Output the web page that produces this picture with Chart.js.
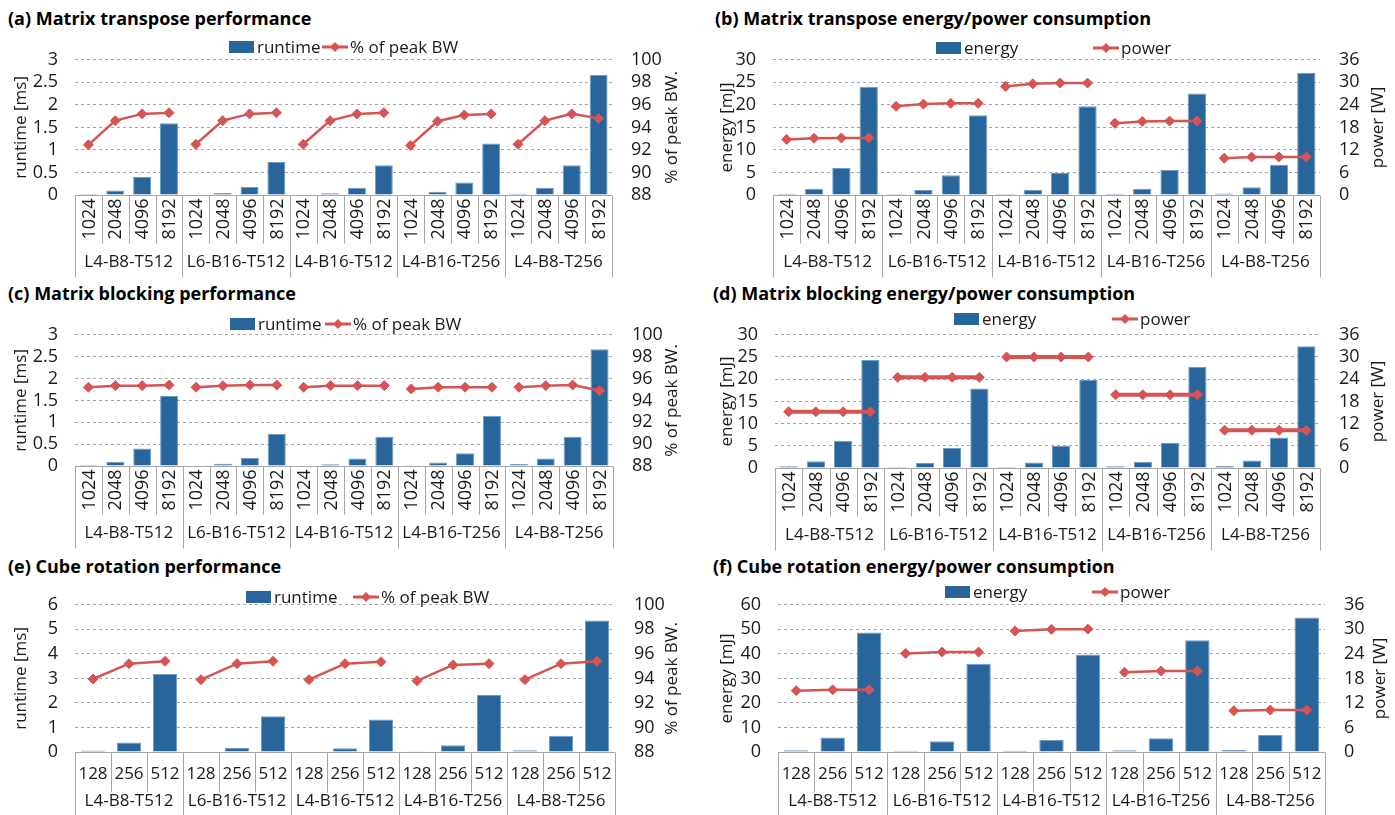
<!DOCTYPE html>
<html>
<head>
<meta charset="utf-8">
<script src="https://cdn.jsdelivr.net/npm/chart.js@4.4.1/dist/chart.umd.min.js"></script>
<style>
  body { margin: 0; background: #fff; width: 1395px; height: 815px; position: relative; overflow: hidden; font-family: 'Open Sans', sans-serif; }
  canvas { position: absolute; }
  .title { position: absolute; font-weight: bold; font-size: 18px; line-height: 20px; white-space: nowrap; color: #000; }
</style>
</head>
<body>
<div class="title" style="left:8px;top:8px">(a) Matrix transpose performance</div>
<div class="title" style="left:715px;top:8px">(b) Matrix transpose energy/power consumption</div>
<div class="title" style="left:8px;top:283px">(c) Matrix blocking performance</div>
<div class="title" style="left:713px;top:283px">(d) Matrix blocking energy/power consumption</div>
<div class="title" style="left:8px;top:556px">(e) Cube rotation performance</div>
<div class="title" style="left:713px;top:556px">(f) Cube rotation energy/power consumption</div>

<canvas id="chartA" width="690" height="252" style="left:0;top:30px"></canvas>
<canvas id="chartB" width="705" height="252" style="left:690px;top:30px"></canvas>
<canvas id="chartC" width="690" height="252" style="left:0;top:305px"></canvas>
<canvas id="chartD" width="705" height="252" style="left:690px;top:305px"></canvas>
<canvas id="chartE" width="690" height="240" style="left:0;top:575px"></canvas>
<canvas id="chartF" width="705" height="240" style="left:690px;top:575px"></canvas>

<script>
// --- dados ---
const groups = ['L4-B8-T512', 'L6-B16-T512', 'L4-B16-T512', 'L4-B16-T256', 'L4-B8-T256'];
const matSizes = ['1024', '2048', '4096', '8192'];
const cubeSizes = ['128', '256', '512'];

// (a) matrix transpose
const transposeRuntime = [0.02, 0.1, 0.4, 1.59, 0.01, 0.045, 0.18, 0.73, 0.01, 0.04, 0.16, 0.66, 0.015, 0.07, 0.28, 1.14, 0.03, 0.16, 0.66, 2.66];
const transposeBW = [92.45, 94.6, 95.2, 95.3, 92.5, 94.6, 95.2, 95.3, 92.5, 94.6, 95.2, 95.3, 92.4, 94.55, 95.1, 95.2, 92.5, 94.6, 95.2, 94.8];
// (b)
const transposeEnergy = [0.3, 1.4, 6.0, 24.0, 0.2, 1.1, 4.4, 17.7, 0.2, 1.15, 4.9, 19.7, 0.3, 1.4, 5.6, 22.5, 0.35, 1.7, 6.7, 27.1];
const transposePower = [14.8, 15.1, 15.2, 15.2, 23.6, 24.2, 24.4, 24.4, 28.9, 29.6, 29.8, 29.8, 19.1, 19.6, 19.7, 19.7, 9.8, 10.1, 10.15, 10.15];
// (c) matrix blocking
const blockingRuntime = [0.03, 0.1, 0.4, 1.6, 0.01, 0.05, 0.19, 0.74, 0.01, 0.04, 0.17, 0.67, 0.02, 0.08, 0.29, 1.15, 0.045, 0.17, 0.67, 2.67];
const blockingBW = [95.2, 95.35, 95.35, 95.4, 95.2, 95.35, 95.4, 95.4, 95.2, 95.35, 95.35, 95.35, 95.05, 95.2, 95.2, 95.2, 95.2, 95.35, 95.4, 94.9];
// (d)
const blockingEnergy = [0.4, 1.5, 6.1, 24.3, 0.25, 1.15, 4.5, 17.9, 0.25, 1.25, 5.0, 19.8, 0.4, 1.4, 5.7, 22.8, 0.45, 1.7, 6.85, 27.4];
const blockingPower = [15.2, 15.2, 15.2, 15.2, 24.5, 24.5, 24.5, 24.5, 30, 30, 30, 30, 19.8, 19.8, 19.8, 19.8, 10.2, 10.2, 10.2, 10.2];
// (e) cube rotation
const cubeRuntime = [0.06, 0.39, 3.18, 0.02, 0.17, 1.46, 0.02, 0.15, 1.32, 0.03, 0.28, 2.32, 0.07, 0.66, 5.36];
const cubeBW = [93.95, 95.2, 95.4, 93.9, 95.2, 95.4, 93.9, 95.2, 95.35, 93.8, 95.1, 95.2, 93.9, 95.2, 95.4];
// (f)
const cubeEnergy = [0.7, 5.9, 48.7, 0.5, 4.4, 36.0, 0.55, 4.85, 39.7, 0.7, 5.65, 45.6, 0.8, 6.9, 54.8];
const cubePower = [15.0, 15.2, 15.2, 24.1, 24.45, 24.45, 29.6, 30.0, 30.05, 19.5, 19.8, 19.8, 10.1, 10.25, 10.3];

// --- estilo ---
const BAR = '#28659A';
const BAR_EDGE = '#6F9CC6';
const RED = '#D65454';
const GRAY = '#A6A6A6';
const TEXT = '#1a1a1a';
const FONT = "'Open Sans', sans-serif";

Chart.defaults.font.family = FONT;
Chart.defaults.font.size = 17;
Chart.defaults.color = TEXT;

// eixo de categorias em dois níveis + títulos dos eixos + legenda
const decor = {
  id: 'decor',
  afterDraw(chart, args, o) {
    const { ctx, chartArea: a, scales } = chart;
    const x = scales.x;
    const n = chart.data.labels.length;
    const per = o.sizes.length;
    const step = x.getPixelForValue(1) - x.getPixelForValue(0);
    ctx.save();

    ctx.strokeStyle = GRAY;
    ctx.lineWidth = 1;
    const yb = Math.round(a.bottom) + 0.5;
    ctx.beginPath(); ctx.moveTo(a.left, yb); ctx.lineTo(a.right, yb); ctx.stroke();
    for (let i = 0; i <= n; i++) {
      const px = Math.round(x.getPixelForValue(i) - step / 2) + 0.5;
      const len = i % per === 0 ? o.groupLen : o.catLen;
      ctx.beginPath(); ctx.moveTo(px, yb); ctx.lineTo(px, yb + len); ctx.stroke();
    }

    ctx.fillStyle = TEXT;
    ctx.font = '17px ' + FONT;
    ctx.textAlign = 'center';
    ctx.textBaseline = 'middle';
    chart.data.labels.forEach((lab, i) => {
      const cx = x.getPixelForValue(i);
      if (o.rotate) {
        ctx.save();
        ctx.translate(cx + 1, a.bottom + o.catY);
        ctx.rotate(-Math.PI / 2);
        ctx.font = '18px ' + FONT;
        ctx.fillText(lab, 0, 0);
        ctx.restore();
      } else {
        ctx.fillText(lab, cx, a.bottom + o.catY);
      }
    });
    o.groups.forEach((g, j) => {
      const cx = (x.getPixelForValue(j * per) + x.getPixelForValue(j * per + per - 1)) / 2;
      ctx.fillText(g, cx, a.bottom + o.groupY);
    });

    // títulos dos eixos (ambos lidos de baixo para cima)
    const midY = (a.top + a.bottom) / 2;
    [[o.leftTitle, o.leftTitleX], [o.rightTitle, o.rightTitleX]].forEach(([t, tx]) => {
      ctx.save();
      ctx.translate(tx, midY);
      ctx.rotate(-Math.PI / 2);
      ctx.fillText(t, 0, 0);
      ctx.restore();
    });

    // legenda
    ctx.textAlign = 'left';
    o.legend.forEach(it => {
      const lx = it.x, ly = o.legendY;
      if (it.type === 'bar') {
        ctx.fillStyle = BAR;
        ctx.fillRect(lx, ly - 6, 25, 12);
      } else {
        ctx.strokeStyle = RED;
        ctx.lineWidth = 3;
        ctx.beginPath(); ctx.moveTo(lx, ly); ctx.lineTo(lx + 26, ly); ctx.stroke();
        ctx.fillStyle = RED;
        ctx.beginPath();
        ctx.moveTo(lx + 13, ly - 5); ctx.lineTo(lx + 18, ly); ctx.lineTo(lx + 13, ly + 5); ctx.lineTo(lx + 8, ly);
        ctx.closePath(); ctx.fill();
      }
      ctx.fillStyle = TEXT;
      ctx.fillText(it.label, lx + 28, ly + 1);
    });
    ctx.restore();
  }
};

const fmt = v => String(Math.round(v * 100) / 100);

// monta um painel: canvas (pos na página), área do gráfico (pos na página)
function makePanel(id, p) {
  const el = document.getElementById(id);
  const c = p.canvas, r = p.plot;
  const per = p.sizes.length;
  const labels = groups.flatMap(() => p.sizes);
  const toLocalX = v => v - c.left;
  const toLocalY = v => v - c.top;

  return new Chart(el.getContext('2d'), {
    data: {
      labels: labels,
      datasets: [
        {
          type: 'line',
          data: p.line,
          yAxisID: 'y1',
          order: 0,
          borderColor: RED,
          borderWidth: p.lineWidth || 2.5,
          pointStyle: 'rectRot',
          pointRadius: 5,
          pointBackgroundColor: RED,
          pointBorderColor: RED,
          pointBorderWidth: 1,
          segment: {
            borderColor: s => (s.p1DataIndex % per === 0 ? 'rgba(0,0,0,0)' : RED)
          }
        },
        {
          type: 'bar',
          data: p.bars,
          yAxisID: 'y',
          order: 1,
          backgroundColor: BAR,
          borderColor: BAR_EDGE,
          borderWidth: 1,
          barPercentage: 1,
          categoryPercentage: 0.67
        }
      ]
    },
    options: {
      responsive: false,
      animation: false,
      layout: { padding: { top: r.T - c.top, left: 0, right: 0, bottom: 0 } },
      plugins: {
        legend: { display: false },
        tooltip: { enabled: false },
        decor: {
          sizes: p.sizes,
          groups: groups,
          rotate: p.rotate,
          catY: p.catY, groupY: p.groupY, catLen: p.catLen, groupLen: p.groupLen,
          leftTitle: p.leftTitle, leftTitleX: toLocalX(p.leftTitleX),
          rightTitle: p.rightTitle, rightTitleX: toLocalX(p.rightTitleX),
          legendY: toLocalY(p.legendY),
          legend: p.legend.map(it => ({ ...it, x: toLocalX(it.x) }))
        }
      },
      scales: {
        x: {
          type: 'category',
          offset: true,
          grid: { display: false },
          border: { display: false },
          ticks: { display: false },
          afterFit: ax => { ax.height = c.top + c.h - r.B; }
        },
        y: {
          position: 'left',
          min: p.yMin, max: p.yMax,
          ticks: { stepSize: p.yStep, padding: 17, color: TEXT, autoSkip: false, callback: fmt, font: { size: 18 } },
          grid: { color: GRAY, drawTicks: false, lineWidth: 1 },
          border: { display: false, dash: [3, 3] },
          afterFit: ax => { ax.width = r.L - c.left; }
        },
        y1: {
          position: 'right',
          min: p.y1Min, max: p.y1Max,
          ticks: { stepSize: p.y1Step, padding: 19, color: TEXT, autoSkip: false, callback: fmt, font: { size: 18 } },
          grid: { display: false, drawTicks: false },
          border: { display: false },
          afterFit: ax => { ax.width = c.left + c.w - r.R; }
        }
      }
    },
    plugins: [decor]
  });
}

const rotatedAxis = { rotate: true, catY: 24, groupY: 67, catLen: 48, groupLen: 82 };
const flatAxis = { rotate: false, catY: 22, groupY: 49, catLen: 40, groupLen: 70 };

const perfAxes = { yMin: 0, yMax: 3, yStep: 0.5, y1Min: 88, y1Max: 100, y1Step: 2, leftTitle: 'runtime [ms]', rightTitle: '% of peak BW.' };
const energyAxes = { yMin: 0, yMax: 30, yStep: 5, y1Min: 0, y1Max: 36, y1Step: 6, leftTitle: 'energy [mJ]', rightTitle: 'power [W]' };

makePanel('chartA', {
  ...rotatedAxis, ...perfAxes,
  canvas: { left: 0, top: 30, w: 690, h: 252 },
  plot: { L: 75, R: 612, T: 35, B: 195 },
  sizes: matSizes, bars: transposeRuntime, line: transposeBW,
  leftTitleX: 21, rightTitleX: 672,
  legendY: 47,
  legend: [{ type: 'bar', x: 229, label: 'runtime' }, { type: 'line', x: 322, label: '% of peak BW' }]
});

makePanel('chartB', {
  ...rotatedAxis, ...energyAxes,
  canvas: { left: 690, top: 30, w: 705, h: 252 },
  plot: { L: 773, R: 1320, T: 38, B: 195 },
  sizes: matSizes, bars: transposeEnergy, line: transposePower,
  leftTitleX: 727, rightTitleX: 1378,
  legendY: 48,
  legend: [{ type: 'bar', x: 936, label: 'energy' }, { type: 'line', x: 1093, label: 'power' }]
});

makePanel('chartC', {
  ...rotatedAxis, ...perfAxes,
  canvas: { left: 0, top: 305, w: 690, h: 252 },
  plot: { L: 75, R: 613, T: 312, B: 466 },
  sizes: matSizes, bars: blockingRuntime, line: blockingBW,
  leftTitleX: 21, rightTitleX: 672,
  legendY: 324,
  legend: [{ type: 'bar', x: 230, label: 'runtime' }, { type: 'line', x: 325, label: '% of peak BW' }]
});

makePanel('chartD', {
  ...rotatedAxis, ...energyAxes,
  canvas: { left: 690, top: 305, w: 705, h: 252 },
  plot: { L: 775, R: 1320, T: 311, B: 468 },
  sizes: matSizes, bars: blockingEnergy, line: blockingPower, lineWidth: 4,
  leftTitleX: 727, rightTitleX: 1378,
  legendY: 319,
  legend: [{ type: 'bar', x: 954, label: 'energy' }, { type: 'line', x: 1112, label: 'power' }]
});

makePanel('chartE', {
  ...flatAxis, ...perfAxes, yMax: 6, yStep: 1,
  canvas: { left: 0, top: 575, w: 690, h: 240 },
  plot: { L: 75, R: 615, T: 584, B: 752 },
  sizes: cubeSizes, bars: cubeRuntime, line: cubeBW,
  leftTitleX: 21, rightTitleX: 672,
  legendY: 597,
  legend: [{ type: 'bar', x: 246, label: 'runtime' }, { type: 'line', x: 353, label: '% of peak BW' }]
});

makePanel('chartF', {
  ...flatAxis, ...energyAxes, yMax: 60, yStep: 10,
  canvas: { left: 690, top: 575, w: 705, h: 240 },
  plot: { L: 778, R: 1325, T: 584, B: 752 },
  sizes: cubeSizes, bars: cubeEnergy, line: cubePower,
  leftTitleX: 727, rightTitleX: 1380,
  legendY: 592,
  legend: [{ type: 'bar', x: 945, label: 'energy' }, { type: 'line', x: 1092, label: 'power' }]
});
</script>
</body>
</html>
